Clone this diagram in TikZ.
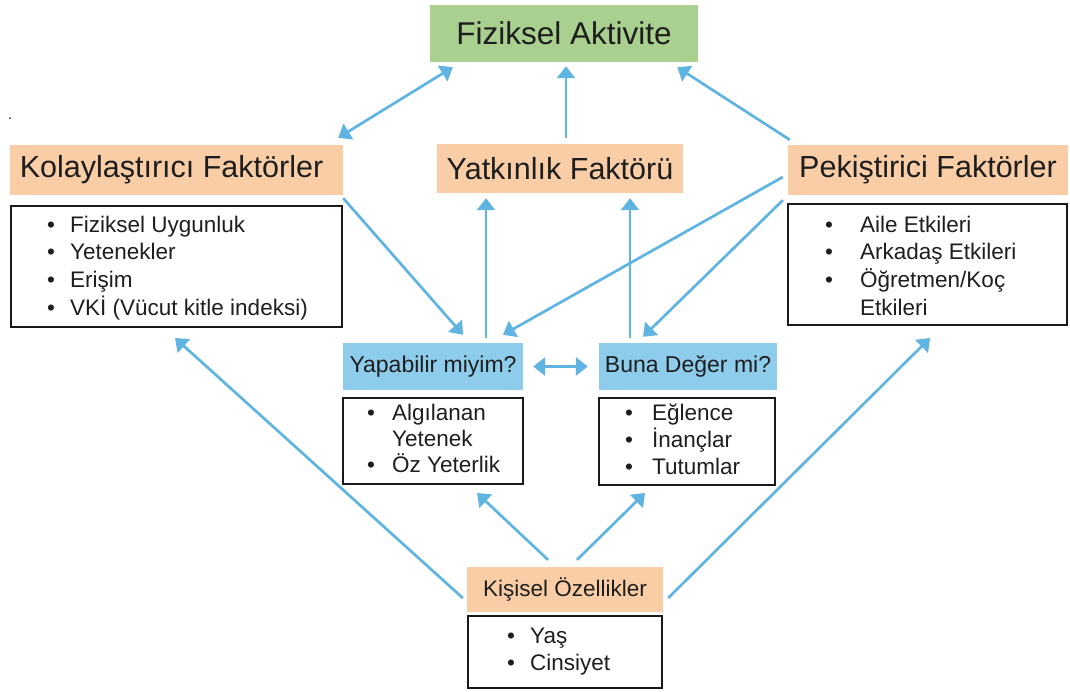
\documentclass[tikz,border=0pt]{standalone}
\usepackage{fontspec}
\setmainfont{Liberation Sans}
\usetikzlibrary{arrows.meta,calc}
\definecolor{gfill}{RGB}{169,208,142}
\definecolor{peach}{RGB}{249,205,166}
\definecolor{qblue}{RGB}{142,204,236}
\definecolor{arrowc}{RGB}{95,180,226}
\definecolor{txt}{RGB}{30,30,30}
\newcommand\bli[2]{\makebox[#1pt][l]{\textbullet}#2}
\begin{document}
\begin{tikzpicture}[x=1pt,y=-1pt,
  headbox/.style={fill=peach,inner sep=0pt,text=txt,font=\fontsize{30.5}{36}\selectfont},
  topbox/.style={fill=gfill,inner sep=0pt,text=txt,font=\fontsize{31.5}{37}\selectfont},
  qbox/.style={fill=qblue,inner sep=0pt,text=txt,font=\fontsize{23}{28}\selectfont},
  kbox/.style={fill=peach,inner sep=0pt,text=txt,font=\fontsize{22.5}{27}\selectfont},
  listbox/.style={draw=black!90,line width=2pt,fill=white,inner sep=0pt},
  listtext/.style={inner sep=0pt,anchor=base west,text=txt},
  conn/.style={draw=arrowc,line width=2.7pt,-{Triangle[length=12pt,width=18pt]}},
  conntwo/.style={draw=arrowc,line width=2.7pt,{Triangle[length=12pt,width=18pt]}-{Triangle[length=12pt,width=18pt]}}
]
\useasboundingbox (0,0) rectangle (1070,691);
\fill[white] (0,0) rectangle (1070,691);

% boxes
\node[topbox,minimum width=268pt,minimum height=57pt] (green) at (564,33.5) {Fiziksel Aktivite};
\node[headbox,minimum width=333pt,minimum height=50pt] (kolay) at (176.5,170) {Kolaylaştırıcı Faktörler\hspace*{10pt}};
\node[listbox,minimum width=331pt,minimum height=121pt] (kolaylist) at (176.5,266.5) {};
\node[headbox,minimum width=246pt,minimum height=49pt] (yatk) at (560,168.5) {Yatkınlık Faktörü};
\node[headbox,minimum width=280pt,minimum height=50pt] (pek) at (928,170) {Pekiştirici Faktörler};
\node[listbox,minimum width=279pt,minimum height=121pt] (peklist) at (927.5,264.5) {};
\node[qbox,minimum width=180pt,minimum height=47pt] (yap) at (433,366.5) {Yapabilir miyim?};
\node[listbox,minimum width=180pt,minimum height=86pt] (yaplist) at (433,441) {};
\node[qbox,minimum width=178pt,minimum height=47pt] (buna) at (688,366.5) {Buna Değer mi?};
\node[listbox,minimum width=176pt,minimum height=87pt] (bunalist) at (687,441.5) {};
\node[kbox,minimum width=196pt,minimum height=45pt] (kis) at (565,589.5) {Kişisel Özellikler};
\node[listbox,minimum width=194pt,minimum height=72pt] (kislist) at (565,652) {};

% list texts
\node[listtext,font=\fontsize{22.5}{27.7}\selectfont] (kolaytxt) at (47,232)
 {\begin{tabular}[t]{@{}l@{}}\bli{23}{Fiziksel Uygunluk}\\ \bli{23}{Yetenekler}\\ \bli{23}{Erişim}\\ \bli{23}{VKİ (Vücut kitle indeksi)}\end{tabular}};
\node[listtext,font=\fontsize{22.5}{27.7}\selectfont] (pektxt) at (825,232)
 {\begin{tabular}[t]{@{}l@{}}\bli{35}{Aile Etkileri}\\ \bli{35}{Arkadaş Etkileri}\\ \bli{35}{Öğretmen/Koç}\\ \hspace*{35pt}Etkileri\end{tabular}};
\node[listtext,font=\fontsize{22.5}{26}\selectfont] (yaptxt) at (367,420)
 {\begin{tabular}[t]{@{}l@{}}\bli{25}{Algılanan}\\ \hspace*{25pt}Yetenek\\ \bli{25}{Öz Yeterlik}\end{tabular}};
\node[listtext,font=\fontsize{22.5}{27}\selectfont] (bunatxt) at (625,420)
 {\begin{tabular}[t]{@{}l@{}}\bli{27}{Eğlence}\\ \bli{27}{İnançlar}\\ \bli{27}{Tutumlar}\end{tabular}};
\node[listtext,font=\fontsize{22.5}{27}\selectfont] (kistxt) at (507,643)
 {\begin{tabular}[t]{@{}l@{}}\bli{23}{Yaş}\\ \bli{23}{Cinsiyet}\end{tabular}};

\node[inner sep=0pt,font=\fontsize{14}{16}\selectfont] (dot) at (10,119) {.};

% connectors
\draw[conntwo] ($(kolay.north east)+(-5,-7)$) -- ($(green.south west)+(23,5)$);
\draw[conn] ($(yatk.north)+(6,-6)$) -- ($(green.south)+(2,4)$);
\draw[conn] ($(pek.north west)+(2,-5)$) -- ($(green.south east)+(-21,5)$);
\draw[conn] ($(kolay.south east)+(0,3)$) -- ($(yap.north)+(30,-8)$);
\draw[conn] ($(yap.north)+(53,-5)$) -- ($(yatk.south)+(-74,5)$);
\draw[conn] ($(pek.west)+(-5,7)$) -- ($(yap.north)+(70,-8)$);
\draw[conn] ($(buna.north)+(-58,-5)$) -- ($(yatk.south)+(70,5)$);
\draw[conn] ($(pek.south west)+(-5,5)$) -- ($(buna.north)+(-45,-6)$);
\draw[conntwo] ($(yap.east)+(10,0)$) -- ($(buna.west)+(-11,0)$);
\draw[conn] ($(kis.north)+(-17,-7)$) -- ($(yaplist.south)+(44,8)$);
\draw[conn] ($(kis.north)+(12,-7)$) -- ($(bunalist.south)+(-42,7)$);
\draw[conn] ($(kis.west)+(-4,8.5)$) -- ($(kolaylist.south)+(-1.5,10)$);
\draw[conn] ($(kis.east)+(5,8.5)$) -- ($(peklist.south)+(2.5,12)$);
\end{tikzpicture}
\end{document}
